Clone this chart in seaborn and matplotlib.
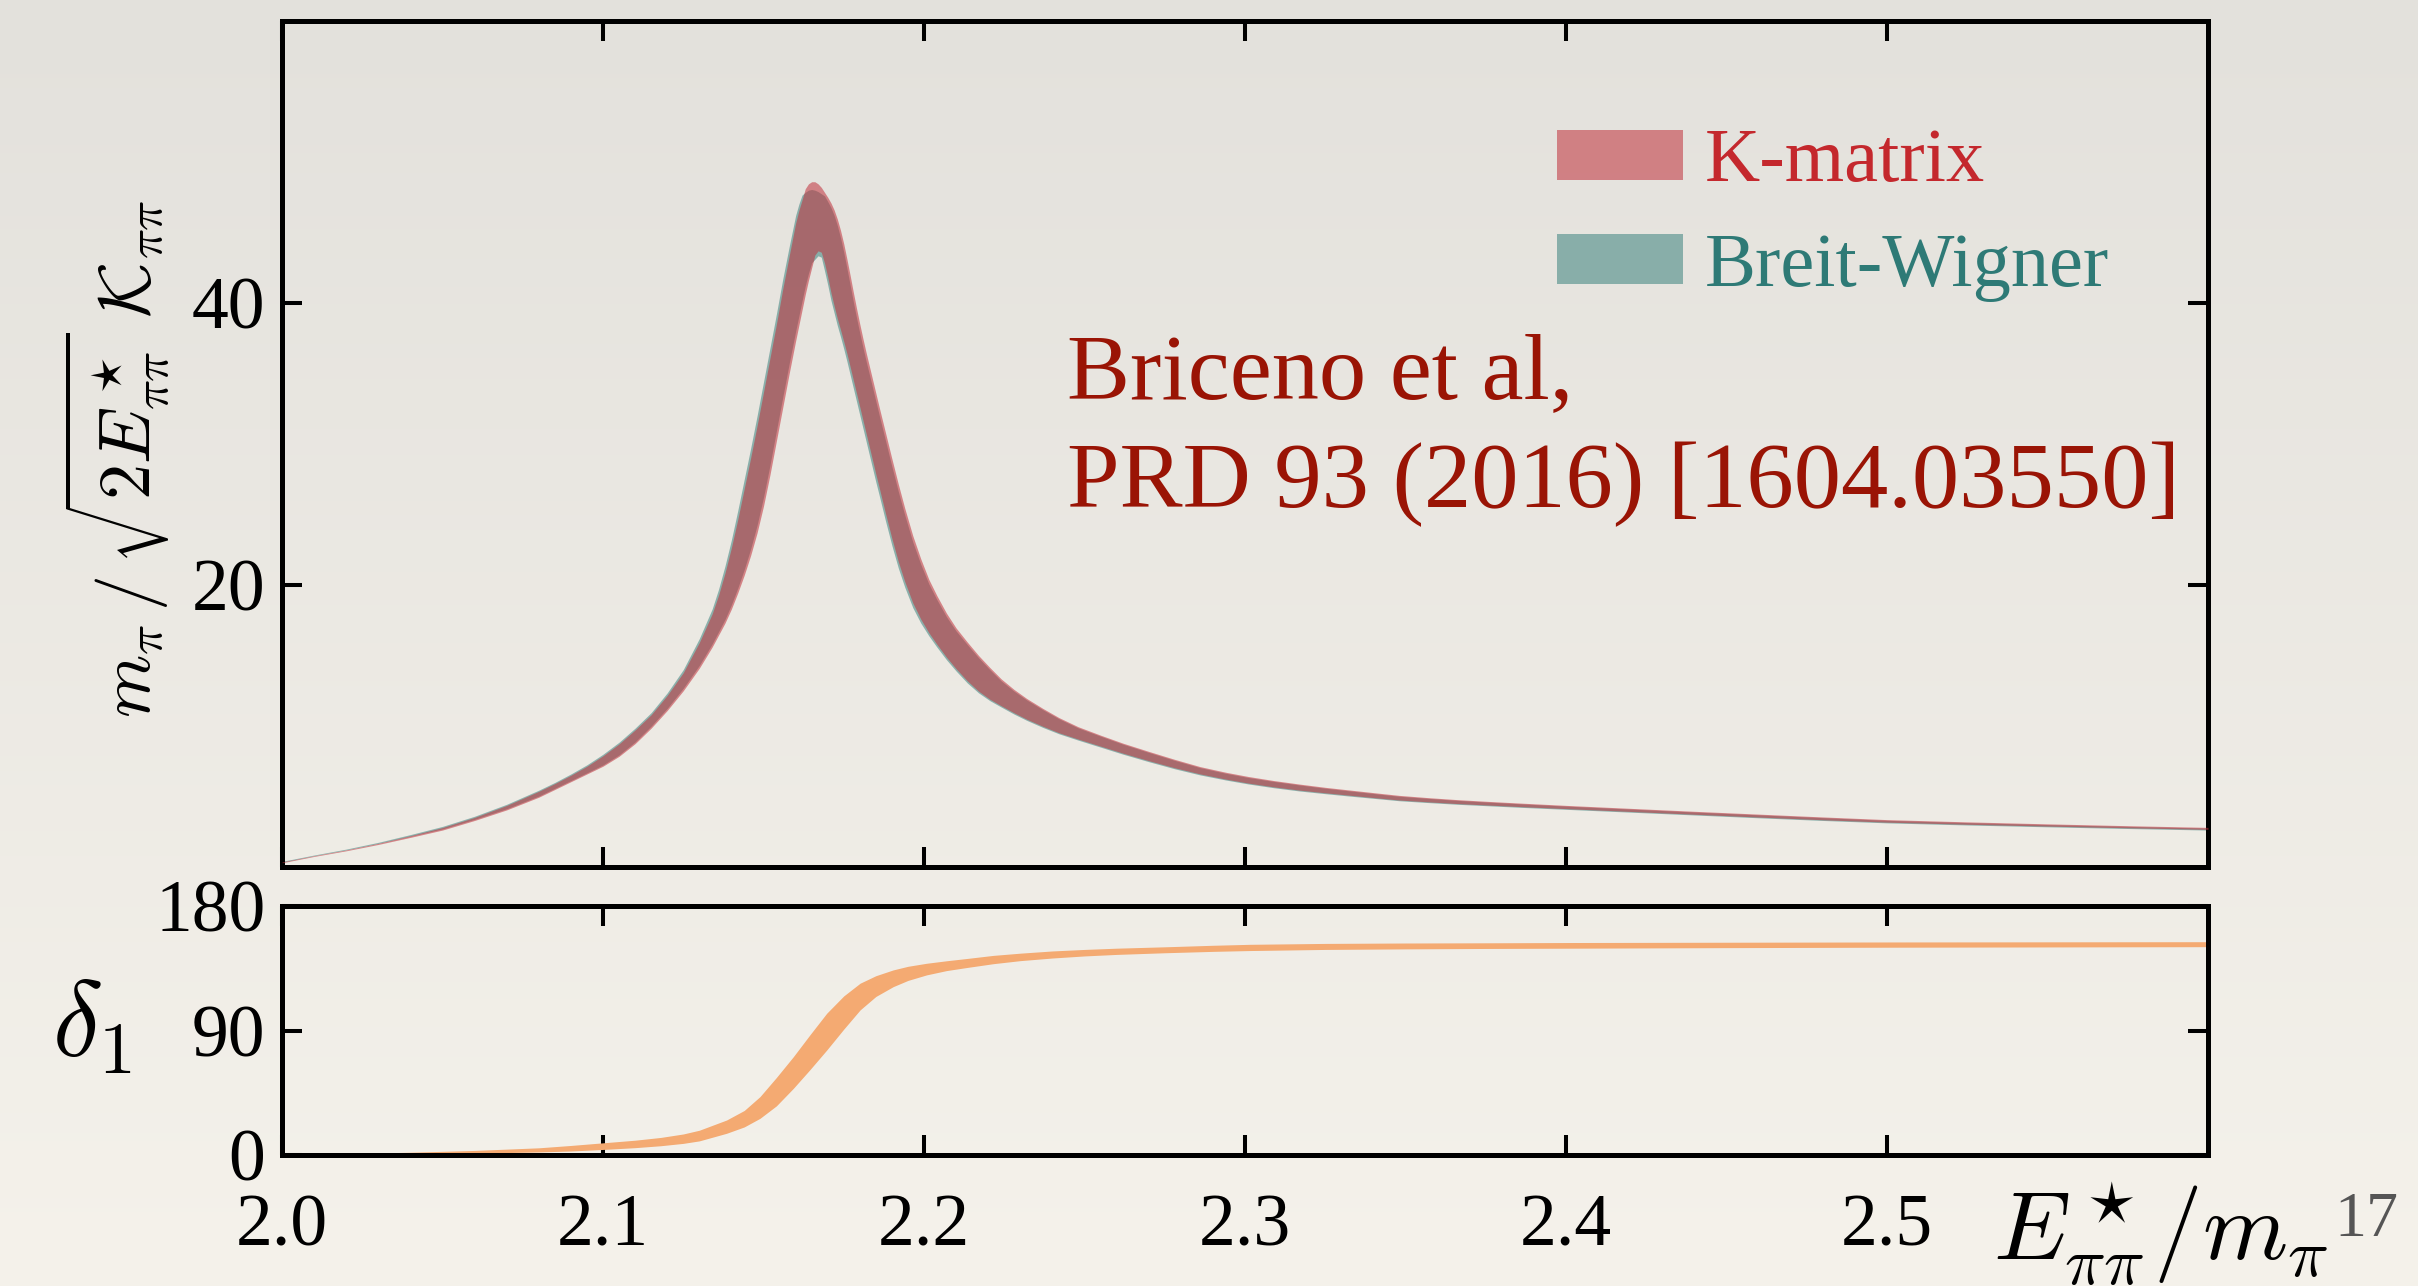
import numpy as np
import pandas as pd
import matplotlib
matplotlib.use("Agg")
import matplotlib.pyplot as plt
from matplotlib.patches import Patch
from matplotlib.ticker import FormatStrFormatter
import seaborn as sns

# ---------------------------------------------------------------------------
# Data: rho-resonance amplitude bands (two parametrisations) and the
# elastic p-wave phase shift, all versus E*/m_pi
# ---------------------------------------------------------------------------
energy = [2.000, 2.010, 2.020, 2.030, 2.040, 2.050, 2.060, 2.070, 2.080, 2.085,
          2.090, 2.095, 2.100, 2.105, 2.110, 2.115, 2.120, 2.125, 2.130, 2.134,
          2.136, 2.138, 2.140, 2.142, 2.144, 2.146, 2.148, 2.150, 2.152, 2.154,
          2.156, 2.158, 2.160, 2.161, 2.162, 2.163, 2.164, 2.165, 2.166, 2.167,
          2.168, 2.169, 2.170, 2.171, 2.172, 2.173, 2.174, 2.175, 2.176, 2.177,
          2.178, 2.179, 2.180, 2.181, 2.182, 2.183, 2.184, 2.185, 2.186, 2.188,
          2.190, 2.192, 2.194, 2.1965, 2.199, 2.2015, 2.204, 2.207, 2.210, 2.2135,
          2.217, 2.2205, 2.224, 2.228, 2.232, 2.237, 2.242, 2.248, 2.255, 2.262,
          2.270, 2.278, 2.286, 2.294, 2.301, 2.309, 2.317, 2.325, 2.333, 2.341,
          2.348, 2.357, 2.366, 2.376, 2.386, 2.400, 2.420, 2.440, 2.460, 2.480,
          2.500, 2.525, 2.550, 2.575, 2.600]

km_lo = [0.30, 0.75, 1.15, 1.60, 2.10, 2.62, 3.30, 4.05, 4.95, 5.50,
         6.05, 6.60, 7.15, 7.85, 8.75, 9.85, 11.10, 12.50, 14.10, 15.60,
         16.45, 17.30, 18.30, 19.45, 20.70, 22.10, 23.70, 25.60, 27.80, 30.20,
         32.60, 35.00, 37.30, 38.40, 39.50, 40.60, 41.60, 42.50, 43.40, 43.70,
         43.60, 42.85, 41.85, 40.75, 39.80, 38.90, 38.10, 37.27, 36.40, 35.47,
         34.52, 33.57, 32.62, 31.67, 30.72, 29.77, 28.82, 27.86, 26.95, 25.08,
         23.30, 21.65, 20.25, 18.74, 17.58, 16.62, 15.80, 14.88, 14.06, 13.20,
         12.47, 11.90, 11.44, 10.94, 10.48, 9.98, 9.52, 9.07, 8.57, 8.07,
         7.54, 7.04, 6.60, 6.23, 5.95, 5.68, 5.45, 5.26, 5.08, 4.90,
         4.75, 4.62, 4.50, 4.39, 4.28, 4.14, 3.94, 3.74, 3.54, 3.35,
         3.18, 3.03, 2.90, 2.78, 2.67]
km_hi = [0.36, 0.80, 1.21, 1.68, 2.22, 2.80, 3.52, 4.37, 5.37, 5.92,
         6.51, 7.15, 7.89, 8.73, 9.72, 10.80, 12.17, 13.78, 15.92, 17.95,
         19.28, 20.85, 22.65, 24.67, 26.84, 29.02, 31.30, 33.68, 36.08, 38.48,
         41.00, 43.34, 45.65, 46.55, 47.30, 48.10, 48.45, 48.60, 48.60, 48.45,
         48.20, 47.85, 47.50, 47.10, 46.60, 45.95, 45.15, 44.20, 43.10, 41.95,
         40.75, 39.60, 38.50, 37.45, 36.45, 35.50, 34.55, 33.60, 32.65, 30.80,
         28.95, 27.15, 25.45, 23.50, 21.85, 20.40, 19.25, 18.00, 16.95, 15.95,
         15.00, 14.15, 13.35, 12.60, 11.95, 11.25, 10.60, 9.95, 9.35, 8.78,
         8.20, 7.64, 7.12, 6.72, 6.42, 6.13, 5.88, 5.65, 5.45, 5.25,
         5.08, 4.92, 4.78, 4.65, 4.53, 4.37, 4.16, 3.95, 3.75, 3.55,
         3.36, 3.20, 3.06, 2.93, 2.81]
bw_lo = [0.34, 0.80, 1.21, 1.67, 2.18, 2.70, 3.38, 4.13, 5.03, 5.58,
         6.13, 6.68, 7.24, 7.95, 8.87, 9.99, 11.25, 12.68, 14.30, 15.82,
         16.69, 17.56, 18.60, 19.79, 21.10, 22.56, 24.24, 26.22, 28.48, 30.92,
         33.32, 35.70, 37.98, 39.06, 40.14, 41.20, 42.10, 42.85, 43.10, 43.35,
         43.25, 42.30, 41.30, 40.20, 39.30, 38.40, 37.60, 36.75, 35.85, 34.90,
         33.95, 33.00, 32.05, 31.10, 30.15, 29.20, 28.25, 27.30, 26.40, 24.55,
         22.80, 21.20, 19.85, 18.40, 17.30, 16.40, 15.60, 14.70, 13.90, 13.05,
         12.35, 11.80, 11.35, 10.85, 10.40, 9.90, 9.45, 9.00, 8.50, 8.00,
         7.47, 6.97, 6.53, 6.17, 5.89, 5.62, 5.39, 5.20, 5.02, 4.85,
         4.70, 4.57, 4.45, 4.34, 4.23, 4.09, 3.89, 3.69, 3.49, 3.30,
         3.13, 2.98, 2.85, 2.73, 2.62]
bw_hi = [0.40, 0.85, 1.27, 1.75, 2.30, 2.88, 3.60, 4.45, 5.45, 6.00,
         6.60, 7.25, 8.00, 8.85, 9.85, 10.95, 12.35, 14.00, 16.20, 18.30,
         19.70, 21.35, 23.20, 25.30, 27.50, 29.70, 32.00, 34.40, 36.80, 39.20,
         41.70, 44.00, 46.20, 47.00, 47.65, 47.85, 48.00, 48.05, 48.00, 47.90,
         47.75, 47.60, 47.20, 46.78, 46.22, 45.50, 44.63, 43.60, 42.45, 41.27,
         40.07, 38.94, 37.86, 36.83, 35.85, 34.92, 33.98, 33.03, 32.09, 30.25,
         28.41, 26.63, 24.97, 23.06, 21.47, 20.08, 18.97, 17.75, 16.74, 15.77,
         14.84, 14.00, 13.21, 12.48, 11.85, 11.16, 10.52, 9.87, 9.28, 8.71,
         8.13, 7.57, 7.05, 6.65, 6.35, 6.07, 5.82, 5.59, 5.39, 5.19,
         5.02, 4.87, 4.73, 4.60, 4.48, 4.32, 4.11, 3.90, 3.70, 3.50,
         3.31, 3.15, 3.01, 2.88, 2.76]

phase_energy = [2.000, 2.020, 2.040, 2.060, 2.080, 2.090, 2.100, 2.110, 2.118, 2.125,
                2.130, 2.1385, 2.144, 2.1489, 2.154, 2.1593, 2.1645, 2.1697, 2.175, 2.1801,
                2.185, 2.1904, 2.195, 2.2008, 2.207, 2.2135, 2.2216, 2.230, 2.240, 2.250,
                2.260, 2.275, 2.290, 2.3016, 2.325, 2.350, 2.375, 2.4012, 2.450, 2.500,
                2.550, 2.600]
phase_lo = [0.0, 0.3, 0.7, 1.3, 2.2, 2.9, 4.0, 5.3, 6.7, 8.4,
            10.2, 15.7, 20.3, 26.5, 35.5, 48.2, 61.8, 75.9, 91.0, 104.9,
            114.6, 121.7, 126.2, 130.2, 133.3, 135.6, 138.3, 140.5, 142.4, 143.9,
            145.0, 146.2, 147.2, 147.8, 148.6, 149.0, 149.3, 149.5, 149.9, 150.2,
            150.4, 150.6]
phase_hi = [0.3, 1.0, 2.0, 3.3, 5.2, 6.9, 8.8, 10.7, 12.7, 15.2,
            17.9, 25.3, 32.2, 42.2, 56.0, 71.1, 87.0, 102.5, 115.0, 124.2,
            129.6, 133.8, 136.4, 138.6, 140.4, 142.1, 144.3, 145.9, 147.5, 148.6,
            149.5, 150.5, 151.6, 152.3, 152.95, 153.25, 153.4, 153.6, 153.8, 154.0,
            154.1, 154.2]

legend_labels = ["K-matrix", "Breit-Wigner"]
x_ticks = [2.0, 2.1, 2.2, 2.3, 2.4, 2.5]

# ---------------------------------------------------------------------------
# Style
# ---------------------------------------------------------------------------
sns.set_theme(style="ticks")
plt.rcParams["font.family"] = ["Liberation Serif", "DejaVu Serif"]
plt.rcParams["mathtext.fontset"] = "cm"

KM_COLOR, KM_ALPHA = "#c0303a", 0.55
BW_COLOR, BW_ALPHA = "#2f7a76", 0.51
PHASE_COLOR = "#f4aa72"
NOTE_COLOR = "#9a1405"
KM_TEXT = "#c4282d"
BW_TEXT = "#2e7a76"

W, H = 2418, 1286
fig = plt.figure(figsize=(W / 100, H / 100), dpi=100)

# soft paper-like background, slightly darker at the top
bg = fig.add_axes([0, 0, 1, 1], zorder=-10)
c_top = np.array([227, 225, 220]) / 255.0
c_bot = np.array([245, 242, 235]) / 255.0
t = np.linspace(0, 1, 256)[:, None, None]
grad = c_top[None, None, :] * (1 - t) + c_bot[None, None, :] * t
bg.imshow(grad, aspect="auto", extent=[0, 1, 0, 1], interpolation="bicubic")
bg.set_axis_off()

ax_top = fig.add_axes([282 / W, 1 - 867 / H, 1926 / W, 846 / H])
ax_bot = fig.add_axes([282 / W, 1 - 1155 / H, 1926 / W, 249 / H])
for ax in (ax_top, ax_bot):
    ax.set_facecolor("none")


def draw_band(ax, x, lo, hi, color, alpha, zorder):
    """Shade the region between lo and hi using seaborn's interval band."""
    df = pd.DataFrame({
        "E": list(x) + list(x),
        "val": list(lo) + list(hi),
    })
    sns.lineplot(data=df, x="E", y="val", ax=ax, color=color, linewidth=0,
                 errorbar=("pi", 100), estimator="mean", legend=False,
                 err_kws={"alpha": alpha, "linewidth": 0, "zorder": zorder})


draw_band(ax_top, energy, bw_lo, bw_hi, BW_COLOR, BW_ALPHA, 2)
draw_band(ax_top, energy, km_lo, km_hi, KM_COLOR, KM_ALPHA, 3)
draw_band(ax_bot, phase_energy, phase_lo, phase_hi, PHASE_COLOR, 1.0, 2)

# ---------------------------------------------------------------------------
# Axes cosmetics
# ---------------------------------------------------------------------------
for ax in (ax_top, ax_bot):
    ax.set_xlim(2.0, 2.6)
    ax.set_xlabel("")
    ax.set_ylabel("")
    for s in ax.spines.values():
        s.set_visible(True)
        s.set_linewidth(3.6)
        s.set_color("black")
    ax.tick_params(axis="both", which="both", direction="in", length=14.4,
                   width=2.9, top=True, right=True, colors="black",
                   labelsize=53)
    ax.tick_params(axis="y", pad=12)
    ax.tick_params(axis="x", pad=28)
    ax.minorticks_off()

ax_top.set_ylim(0, 60)
ax_top.set_yticks([20, 40])
ax_top.set_xticks(x_ticks)
ax_top.tick_params(axis="x", labelbottom=False)

ax_bot.set_ylim(0, 180)
ax_bot.set_yticks([0, 90, 180])
ax_bot.set_xticks(x_ticks)
ax_bot.xaxis.set_major_formatter(FormatStrFormatter("%.1f"))

# legend
handles = [Patch(facecolor=KM_COLOR, alpha=KM_ALPHA, edgecolor="none"),
           Patch(facecolor=BW_COLOR, alpha=BW_ALPHA, edgecolor="none")]
leg = ax_top.legend(handles, legend_labels, loc="upper left",
                    bbox_to_anchor=(0.662, 0.873), frameon=False, fontsize=55,
                    handlelength=1.65, handleheight=0.63, handletextpad=0.29,
                    labelspacing=0.47, borderpad=0, borderaxespad=0,
                    labelcolor=[KM_TEXT, BW_TEXT])

# reference note
ax_top.text(2.2445, 33.26, "Briceno et al,", color=NOTE_COLOR, fontsize=68,
            ha="left", va="baseline")
ax_top.text(2.2445, 25.53, "PRD 93 (2016) [1604.03550]", color=NOTE_COLOR,
            fontsize=68, ha="left", va="baseline")

# axis titles
fig.text(117 / W, 1 - 459 / H,
         r"$m_\pi\,/\,\sqrt{2E^\star_{\pi\pi}}\;\mathcal{K}_{\pi\pi}$",
         rotation=90, ha="center", va="center", fontsize=52, color="black")
fig.text(92 / W, 1 - 1030 / H, r"$\delta_1$", ha="center", va="center",
         fontsize=76, color="black")
fig.text(1993 / W, 1 - 1260 / H, r"$E^\star_{\pi\pi}/m_\pi$", ha="left",
         va="baseline", fontsize=70, color="black")
fig.text(2334 / W, 1 - 1236 / H, "17", ha="left", va="baseline",
         fontsize=46, color="#555555")

fig.savefig("out.png", dpi=100)
